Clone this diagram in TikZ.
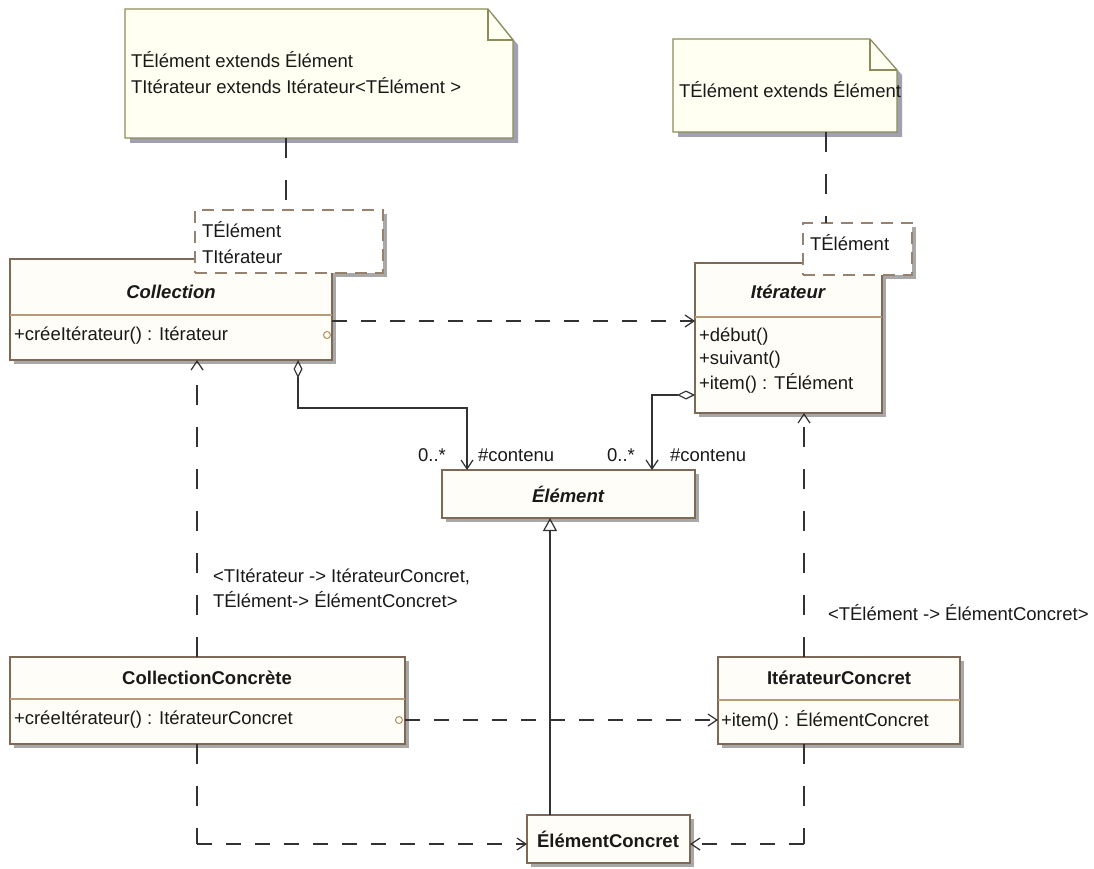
\documentclass[tikz,border=0pt]{standalone}
\usepackage{fontspec}
\setmainfont{Liberation Sans}
\usetikzlibrary{arrows.meta,calc,shadows}

\definecolor{boxline}{RGB}{125,105,85}
\definecolor{boxfill}{RGB}{255,253,247}
\definecolor{divline}{RGB}{185,155,120}
\definecolor{shadowgray}{RGB}{168,168,168}
\definecolor{noteline}{RGB}{140,140,90}
\definecolor{notefill}{RGB}{255,255,242}
\definecolor{noteshadow}{RGB}{160,160,175}
\definecolor{wire}{RGB}{50,50,50}
\definecolor{ink}{RGB}{25,25,25}
\definecolor{tmplline}{RGB}{150,130,110}
\definecolor{portline}{RGB}{175,145,100}

\begin{document}
\begin{tikzpicture}[x=1pt,y=-1pt,
  font=\fontsize{18.5}{22}\selectfont,
  every node/.style={inner sep=0pt, outer sep=0pt, text=ink},
  classbox/.style={draw=boxline, line width=1.3pt, fill=boxfill, anchor=north west,
    drop shadow={shadow xshift=4pt, shadow yshift=-4pt, fill=shadowgray, opacity=1}},
  divider/.style={draw=divline, line width=1.1pt},
  frame/.style={anchor=north west},
  notebody/.style={draw=noteline, line width=1.2pt, fill=notefill,
    drop shadow={shadow xshift=5pt, shadow yshift=-5pt, fill=noteshadow, opacity=1}},
  tmplbox/.style={draw=tmplline, line width=1.2pt, fill=white, anchor=north west,
    dash pattern=on 12pt off 8pt},
  cname/.style={font=\fontsize{18.5}{22}\selectfont\bfseries},
  aname/.style={font=\fontsize{18.5}{22}\selectfont\bfseries\itshape},
  member/.style={anchor=west},
  barb/.style={-{Straight Barb[length=9pt,width=12pt,line width=1.2pt]}},
  wireh/.style={draw=wire, line width=1.2pt, dash pattern=on 15pt off 14pt},
  wirev/.style={draw=wire, line width=1.2pt, dash pattern=on 20pt off 22pt},
  solidwire/.style={draw=wire, line width=1.2pt},
  port/.style={circle, draw=portline, line width=1pt, minimum size=7pt}
]
\useasboundingbox (0,0) rectangle (1094,869);
\fill[white] (0,0) rectangle (1094,869);

% ---------- notes ----------
\node[frame, minimum width=388pt, minimum height=129pt] (note1) at (125,9) {};
\path[notebody] (note1.north west) -- ($(note1.north east)+(-25,0)$)
  -- ($(note1.north east)+(0,31)$) -- (note1.south east) -- (note1.south west) -- cycle;
\draw[noteline, line width=1.2pt] ($(note1.north east)+(-25,0)$) -- ($(note1.north east)+(-25,31)$)
  -- ($(note1.north east)+(0,31)$);
\node[anchor=west, align=left, font=\fontsize{18.5}{26}\selectfont] (note1txt) at (131,73)
  {TÉlément extends Élément\\TItérateur extends Itérateur<TÉlément >};

\node[frame, minimum width=224pt, minimum height=93pt] (note2) at (673,39) {};
\path[notebody] (note2.north west) -- ($(note2.north east)+(-27,0)$)
  -- ($(note2.north east)+(0,31)$) -- (note2.south east) -- (note2.south west) -- cycle;
\draw[noteline, line width=1.2pt] ($(note2.north east)+(-27,0)$) -- ($(note2.north east)+(-27,31)$)
  -- ($(note2.north east)+(0,31)$);
\node[anchor=west] (note2txt) at (679,90) {TÉlément extends Élément};

% shadows of the template parameter boxes (behind the classes)
\fill[shadowgray] (199,214) rectangle (387,277);
\fill[shadowgray] (807,227) rectangle (916,279);

% ---------- classes ----------
\node[classbox, minimum width=322pt, minimum height=101pt] (coll) at (10,259) {};
\draw[divider] (coll.west |- 0,315) -- (coll.east |- 0,315);
\node[aname] (collname) at (171,292) {Collection};
\node[member] (collop) at (14,336) {+créeItérateur() : Itérateur};
\node[port] (collport) at (327,335) {};

\node[classbox, minimum width=187pt, minimum height=150pt] (iter) at (695,263) {};
\draw[divider] (iter.west |- 0,317) -- (iter.east |- 0,317);
\node[aname] (itername) at (788,292) {Itérateur};
\node[member] (iterop1) at (699,337) {+début()};
\node[member] (iterop2) at (699,360) {+suivant()};
\node[member] (iterop3) at (699,383) {+item() : TÉlément};

\node[classbox, minimum width=253pt, minimum height=48pt] (elem) at (442,470) {};
\node[aname] (elemname) at (568,494) {Élément};

\node[classbox, minimum width=395pt, minimum height=87pt] (collc) at (10,657) {};
\draw[divider] (collc.west |- 0,699) -- (collc.east |- 0,699);
\node[cname] (collcname) at (207,678) {CollectionConcrète};
\node[member] (collcop) at (14,720) {+créeItérateur() : ItérateurConcret};
\node[port] (collcport) at (399,720) {};

\node[classbox, minimum width=242pt, minimum height=87pt] (iterc) at (718,657) {};
\draw[divider] (iterc.west |- 0,700) -- (iterc.east |- 0,700);
\node[cname] (itercname) at (839,678) {ItérateurConcret};
\node[member] (itercop) at (721,720) {+item() : ÉlémentConcret};

\node[classbox, minimum width=163pt, minimum height=48pt] (elemc) at (527,815) {};
\node[cname] (elemcname) at (608,839) {ÉlémentConcret};

% ---------- template parameter boxes ----------
\node[tmplbox, minimum width=188pt, minimum height=63pt] (tmpl1) at (195,210) {};
\node[member] (tmpl1a) at (202,230) {TÉlément};
\node[member] (tmpl1b) at (202,257) {TItérateur};

\node[tmplbox, minimum width=109pt, minimum height=52pt] (tmpl2) at (803,223) {};
\node[member] (tmpl2a) at (810,243) {TÉlément};

% ---------- connectors ----------
% note anchors
\draw[wirev] (note1.south -| 286,0) -- (286,0 |- tmpl1.north);
\draw[wirev] (note2.south -| 826,0) -- (826,0 |- tmpl2.north);

% dependencies between the operations and the iterators
\draw[wireh, barb] (coll.east |- 0,321) -- (iter.west |- 0,321);
\draw[wireh, barb] (collc.east |- 0,720) -- (iterc.west |- 0,720);

% aggregations towards Élément
\draw[solidwire, {Diamond[open,length=18pt,width=9pt,line width=1.2pt]}-{Straight Barb[length=9pt,width=12pt,line width=1.2pt]}]
  (298,0 |- coll.south) -- (298,408) -| (467,0 |- elem.north);
\draw[solidwire, {Diamond[open,length=18pt,width=9pt,line width=1.2pt]}-{Straight Barb[length=9pt,width=12pt,line width=1.2pt]}]
  (iter.west |- 0,395) -| (652,0 |- elem.north);
\node (mult1) at (432,455) {0..*};
\node[anchor=west] (role1) at (478,455) {\#contenu};
\node (mult2) at (621,455) {0..*};
\node[anchor=west] (role2) at (670,455) {\#contenu};

% generalisation
\draw[solidwire, -{Triangle[open,length=13pt,width=14pt,line width=1.2pt]}]
  (550,0 |- elemc.north) -- (550,0 |- elem.south);

% template bindings
\draw[wirev, barb] (197,0 |- collc.north) -- (197,0 |- coll.south);
\coordinate (lcorner) at (197,844);
\draw[wirev] (197,0 |- collc.south) -- (lcorner);
\draw[wireh, barb] (lcorner) -- (elemc.west |- lcorner);

\draw[wirev, barb] (804,0 |- iterc.north) -- (804,0 |- iter.south);
\coordinate (rcorner) at (804,844);
\draw[wirev] (804,0 |- iterc.south) -- (rcorner);
\draw[wireh, barb] (rcorner) -- (elemc.east |- rcorner);

\node[anchor=west, align=left, font=\fontsize{18.5}{25}\selectfont] (bindl) at (213,588)
  {<TItérateur -> ItérateurConcret,\\TÉlément-> ÉlémentConcret>};
\node[anchor=west] (bindr) at (828,613) {<TÉlément -> ÉlémentConcret>};
\end{tikzpicture}
\end{document}
